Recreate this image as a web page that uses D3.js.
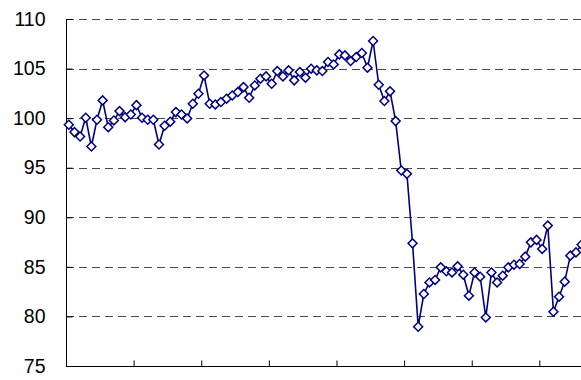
<!DOCTYPE html>
<html>
<head>
<meta charset="utf-8">
<script src="https://cdn.jsdelivr.net/npm/d3@7/dist/d3.min.js"></script>
<style>
  html, body { margin: 0; padding: 0; background: #fff; }
  svg { display: block; }
</style>
</head>
<body>
<svg id="chart" width="581" height="380"></svg>
<script>
// Monthly index series (one value per month, 12 months per tick interval)
const values = [
  99.33, 98.59, 98.15, 100.04, 97.14, 99.84, 101.79, 99.09, 99.77, 100.71,
  100.1, 100.37, 101.31, 100.04, 99.84, 99.84, 97.34, 99.23, 99.64, 100.61,
  100.37, 99.97, 101.45, 102.46, 104.31, 101.45, 101.38, 101.62, 101.96, 102.29,
  102.63, 103.13, 102.06, 103.3, 103.98, 104.21, 103.47, 104.75, 104.21, 104.82,
  103.81, 104.65, 104.08, 104.99, 104.82, 104.75, 105.66, 105.42, 106.43, 106.33,
  105.76, 106.16, 106.57, 105.09, 107.78, 103.37, 101.72, 102.7, 99.7, 94.72,
  94.38, 87.37, 78.96, 82.26, 83.43, 83.68, 84.95, 84.55, 84.44, 85.05,
  84.21, 82.09, 84.44, 84.01, 79.9, 84.44, 83.43, 84.11, 84.95, 85.22,
  85.29, 86.03, 87.47, 87.72, 86.81, 89.16, 80.47, 81.99, 83.51, 86.13,
  86.46, 87.24
];
const slotCount = 96;                 // months covered by the category axis
const categories = d3.range(slotCount);
const yTicks = [75, 80, 85, 90, 95, 100, 105, 110];
const yDomain = [75, 110];

(function draw() {
  const svg = d3.select("#chart");
  const plotLeft = 66, plotRight = 66 + slotCount * 5.635, plotTop = 19, plotBottom = 366;

  const x = d3.scaleBand().domain(categories).range([plotLeft, plotRight]).padding(0);
  const y = d3.scaleLinear().domain(yDomain).range([plotBottom, plotTop]);

  // dashed horizontal gridlines
  svg.append("g").selectAll("line")
    .data(yTicks.filter(t => t > yDomain[0]))
    .join("line")
    .attr("x1", plotLeft).attr("x2", plotRight)
    .attr("y1", d => Math.round(y(d)) + 0.5).attr("y2", d => Math.round(y(d)) + 0.5)
    .attr("stroke", "#4a4a4a").attr("stroke-width", 1)
    .attr("stroke-dasharray", "8,5");

  // y axis with inward ticks
  const yAxis = d3.axisLeft(y).tickValues(yTicks).tickSize(-6).tickPadding(21).tickFormat(d3.format("d"));
  const gy = svg.append("g").attr("transform", `translate(${plotLeft + 0.5},0)`).call(yAxis);
  gy.select(".domain").attr("stroke", "#000").attr("d", `M0,${plotBottom}V${plotTop}`);
  gy.selectAll(".tick line").attr("stroke", "#000");
  gy.selectAll(".tick text")
    .attr("font-family", "'Liberation Sans', Arial, sans-serif")
    .attr("font-size", 19.5)
    .attr("fill", "#000");

  // x axis: ticks at year boundaries, pointing inward
  const xEdges = d3.scaleLinear().domain([0, slotCount]).range([plotLeft, plotRight]);
  const xAxis = d3.axisBottom(xEdges).tickValues(d3.range(0, slotCount + 1, 12)).tickSize(-6).tickFormat("");
  const gx = svg.append("g").attr("transform", `translate(0,${plotBottom + 0.5})`).call(xAxis);
  gx.select(".domain").attr("stroke", "#000").attr("d", `M${plotLeft},0H${plotRight}`);
  gx.selectAll(".tick line").attr("stroke", "#000");

  // series line
  const cx = (d, i) => x(i) + x.bandwidth() / 2;
  const line = d3.line().x(cx).y(d => y(d));
  svg.append("path")
    .datum(values)
    .attr("d", line)
    .attr("fill", "none")
    .attr("stroke", "#000080")
    .attr("stroke-width", 1.6);

  // diamond markers: squares rotated 45 degrees
  svg.append("g").selectAll("path")
    .data(values)
    .join("path")
    .attr("transform", (d, i) => `translate(${cx(d, i)},${y(d)}) rotate(45)`)
    .attr("d", d3.symbol().type(d3.symbolSquare).size(40))
    .attr("fill", "#fff")
    .attr("stroke", "#000080")
    .attr("stroke-width", 1.5);
})();
</script>
</body>
</html>
